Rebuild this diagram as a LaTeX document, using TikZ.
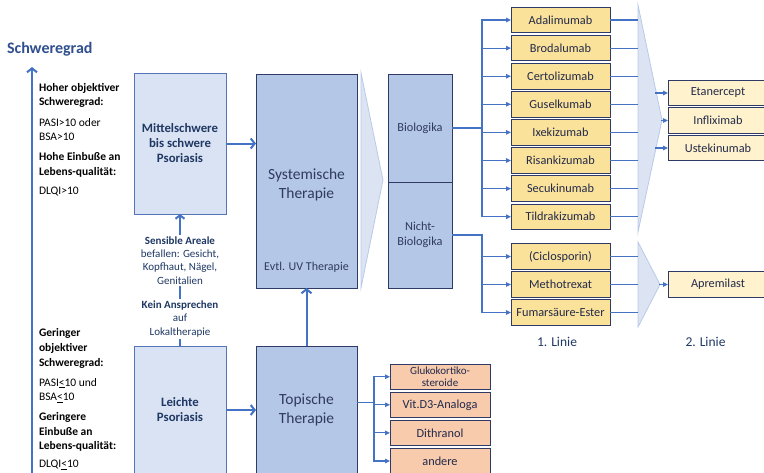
\documentclass[tikz,border=0pt]{standalone}
\usepackage{fontspec}
\setmainfont{Carlito}
\usetikzlibrary{arrows.meta}
\definecolor{arrowblue}{HTML}{4472C4}
\definecolor{navy}{HTML}{1F3864}
\definecolor{titleblue}{HTML}{2F4F8F}
\definecolor{slate}{HTML}{2F3A60}
\definecolor{lightfill}{HTML}{DAE3F3}
\definecolor{lightedge}{HTML}{5474B8}
\definecolor{midfill}{HTML}{B4C7E7}
\definecolor{darkedge}{HTML}{2F3B66}
\definecolor{gold}{HTML}{FBE29A}
\definecolor{paleyellow}{HTML}{FFF2CC}
\definecolor{salmon}{HTML}{F8CBAD}
\definecolor{boxtext}{HTML}{222A4A}
\definecolor{chevfill}{HTML}{DCE4F3}
\definecolor{chevedge}{HTML}{B9CAE8}
\begin{document}
\begin{tikzpicture}[x=1pt,y=-1pt,
  every node/.style={inner sep=0pt, outer sep=0pt},
  sidelbl/.style={font=\fontsize{11.5pt}{14.8pt}\selectfont, align=left, anchor=west, text=black},
  sidebold/.style={sidelbl, font=\fontsize{11.5pt}{14.8pt}\selectfont\bfseries},
  lightbox/.style={draw=lightedge, fill=lightfill, line width=0.9pt, align=center, text=navy,
     font=\fontsize{12.8pt}{15pt}\selectfont\bfseries, minimum width=92pt},
  midbox/.style={draw=darkedge, fill=midfill, line width=0.9pt, align=center, text=slate},
  drugbox/.style={draw=darkedge, line width=0.9pt, align=center, text=boxtext,
     font=\fontsize{12.3pt}{14pt}\selectfont, minimum height=25.5pt},
  goldbox/.style={drugbox, fill=gold, minimum width=99pt},
  palebox/.style={drugbox, fill=paleyellow, minimum width=100pt},
  topbox/.style={drugbox, fill=salmon, minimum width=100pt},
  bigarrow/.style={draw=arrowblue, line width=2pt, -{Straight Barb[length=4pt,width=10pt]}},
  conn/.style={draw=arrowblue, line width=1.1pt, -{Triangle[length=5pt,width=4.5pt]}},
  connback/.style={draw=arrowblue, line width=1.1pt, {Triangle[length=5pt,width=4.5pt]}-},
  plainline/.style={draw=arrowblue, line width=1.1pt},
  chevron/.style={fill=chevfill, draw=chevedge, line width=0.8pt},
  midlbl/.style={align=center, fill=white, inner ysep=1.5pt, text=navy, font=\fontsize{11pt}{13.3pt}\selectfont}
]
\clip (0,0) rectangle (764,472);
\fill[white] (0,0) rectangle (764,472);

% title and axis
\node[anchor=west, text=titleblue, font=\fontsize{16pt}{18pt}\selectfont\bfseries] (title) at (7,49) {Schweregrad};
\coordinate (axbot) at (32,475);
\coordinate (axtop) at (32,67);
\draw[draw=arrowblue, line width=2pt, -{Straight Barb[length=4pt,width=10pt]}] (axbot) -- (axtop);

% left-side labels (upper)
\node[sidebold] (h1) at (39,95.5) {Hoher objektiver\\Schweregrad:};
\node[sidelbl] (h2) at (39,129.5) {PASI>10 oder\\BSA>10};
\node[sidebold] (h3) at (39,164.5) {Hohe Einbuße an\\Lebens-qualität:};
\node[sidelbl] (h4) at (39,192) {DLQI>10};
% left-side labels (lower)
\node[sidebold] (g1) at (39,348.5) {Geringer\\objektiver\\Schweregrad:};
\node[sidelbl] (g2) at (39,390.5) {PASI\underline{<}10 und\\BSA\underline{<}10};
\node[sidebold] (g3) at (39,432) {Geringere\\Einbuße an\\Lebens-qualität:};
\node[sidelbl] (g4) at (39,465) {DLQI\underline{<}10};

% chevrons
\filldraw[chevron] (361,73) -- (383,180) -- (361,288) -- cycle;
\filldraw[chevron] (638,5) -- (662,120) -- (638,232) -- cycle;
\filldraw[chevron] (638,242) -- (660,284.5) -- (638,327) -- cycle;

% main boxes
\node[lightbox, minimum height=141pt] (mittel) at (180,143.5) {Mittelschwere\\bis schwere\\Psoriasis};
\node[lightbox, minimum height=128pt] (leicht) at (180,410) {Leichte\\Psoriasis};
\node[midbox, minimum width=101pt, minimum height=214pt] (syst) at (306.5,181) {};
\node[align=center, text=slate, font=\fontsize{15.5pt}{19pt}\selectfont] (systtxt) at (306.5,184.5) {Systemische\\Therapie};
\node[text=slate, font=\fontsize{12pt}{14pt}\selectfont] (uv) at (306.5,267) {Evtl. UV Therapie};
\node[midbox, minimum width=101pt, minimum height=128pt, font=\fontsize{15.5pt}{19pt}\selectfont] (topisch) at (306.5,410) {Topische\\Therapie};
\node[midbox, minimum width=64pt, minimum height=108pt, font=\fontsize{12.3pt}{15pt}\selectfont] (bio) at (420,128) {Biologika};
\node[midbox, minimum width=64pt, minimum height=106pt, font=\fontsize{12.3pt}{15pt}\selectfont] (nbio) at (420,235) {Nicht-\\Biologika};

% main arrows
\draw[bigarrow] (mittel.east) -- (mittel.east -| syst.west);
\draw[bigarrow] (leicht.east) -- (leicht.east -| topisch.west);
\draw[bigarrow] (topisch.north) -- (syst.south);
\draw[draw=arrowblue, line width=2pt, -{Straight Barb[length=3.5pt,width=9pt]}] (leicht.north) -- (mittel.south);
\node[midlbl] (sens) at (180,260.3) {\textbf{Sensible Areale}\\befallen: Gesicht,\\Kopfhaut, Nägel,\\Genitalien};
\node[midlbl] (kein) at (180,319) {\textbf{Kein Ansprechen}\\auf\\Lokaltherapie};

% biologics
\node[goldbox] (ada) at (560.5,20) {Adalimumab};
\node[goldbox] (bro) at (560.5,48.1) {Brodalumab};
\node[goldbox] (cer) at (560.5,76.2) {Certolizumab};
\node[goldbox] (gus) at (560.5,104.3) {Guselkumab};
\node[goldbox] (ixe) at (560.5,132.4) {Ixekizumab};
\node[goldbox] (ris) at (560.5,160.5) {Risankizumab};
\node[goldbox] (sec) at (560.5,188.6) {Secukinumab};
\node[goldbox] (til) at (560.5,216.7) {Tildrakizumab};
% non-biologics
\node[goldbox] (cic) at (560.5,256.5) {(Ciclosporin)};
\node[goldbox] (mtx) at (560.5,284.5) {Methotrexat};
\node[goldbox] (fum) at (560.5,312.5) {Fumarsäure-Ester};
% second line
\node[palebox] (eta) at (718,93) {Etanercept};
\node[palebox] (inf) at (718,120.5) {Infliximab};
\node[palebox] (ust) at (718,148) {Ustekinumab};
\node[palebox] (apr) at (718,284.5) {Apremilast};
% topicals
\node[topbox, font=\fontsize{11pt}{12.5pt}\selectfont] (glu) at (440,376.7) {Glukokortiko-\\steroide};
\node[topbox] (vit) at (440,404.8) {Vit.D3-Analoga};
\node[topbox] (dit) at (440,432.9) {Dithranol};
\node[topbox] (and) at (440,461) {andere};

% branch coordinates
\coordinate (bj) at (482,0);
\coordinate (tj) at (374,0);
\coordinate (cj) at (638,0);

\foreach \n in {ada,bro,cer,gus,ixe,ris,sec,til}{
  \draw[conn] (bio.east) -- (bj |- bio.east) |- (\n.west);
  \draw[plainline] (\n.east) -- (cj |- \n.east);
}
\foreach \n in {cic,mtx,fum}{
  \draw[conn] (nbio.east) -- (bj |- nbio.east) |- (\n.west);
  \draw[plainline] (\n.east) -- (cj |- \n.east);
}
\coordinate (topout) at (357,402.3);
\foreach \n in {glu,vit,dit,and}{
  \draw[conn] (topisch.east |- topout) -- (tj |- topout) |- (\n.west);
}
\draw[connback] (eta.west) -- ++(-13,0);
\draw[connback] (inf.west) -- ++(-7,0);
\draw[connback] (ust.west) -- ++(-13,0);
\draw[connback] (apr.west) -- ++(-9,0);

% column labels
\node[text=navy, font=\fontsize{13.5pt}{15pt}\selectfont] (l1) at (557,342) {1. Linie};
\node[text=navy, font=\fontsize{13.5pt}{15pt}\selectfont] (l2) at (705.5,342) {2. Linie};
\end{tikzpicture}
\end{document}
